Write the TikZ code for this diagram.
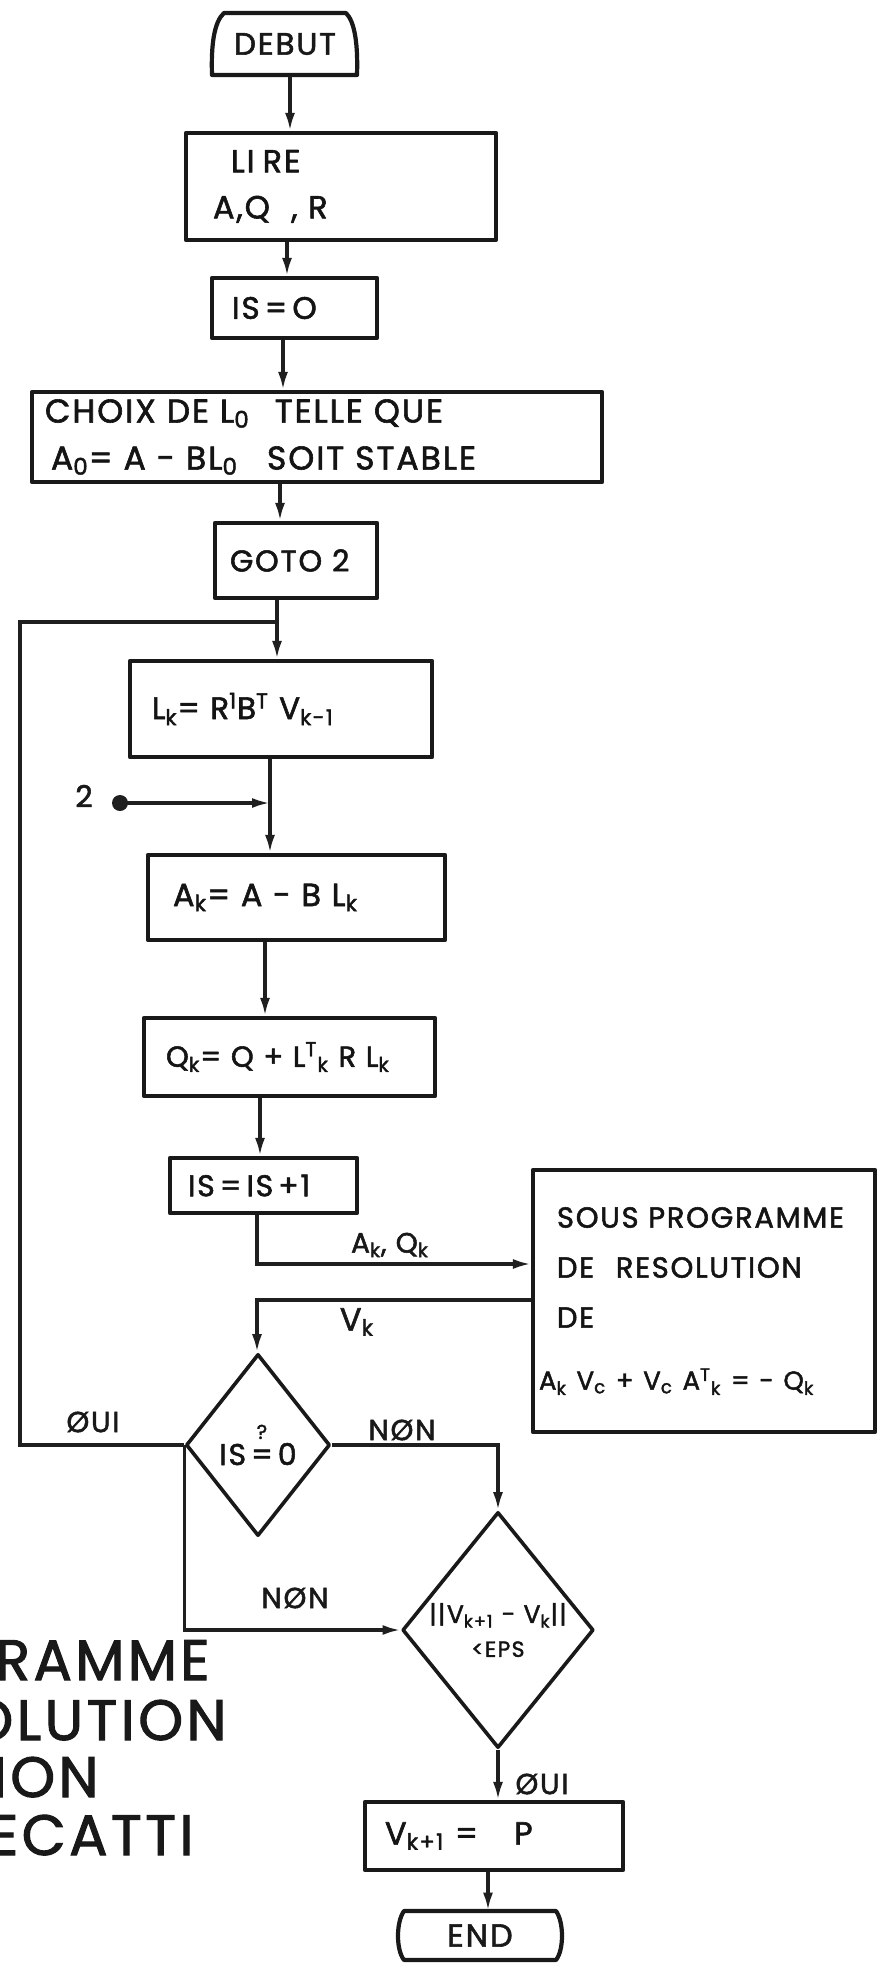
\documentclass[tikz,border=0pt]{standalone}
\usepackage{fontspec}
\setmainfont{Poppins}[LetterSpace=6,FakeBold=1.8]
\usetikzlibrary{shapes.geometric,arrows.meta}
\newcommand\fz[2]{\fontsize{#1pt}{#2pt}\selectfont}
\begin{document}
\begin{tikzpicture}[x=0.5pt,y=-0.5pt,
  boxline/.style={line width=2.1pt, draw=black!90, line join=round},
  stepbox/.style={boxline, rectangle, inner ysep=0pt, align=left, text=black!92},
  conn/.style={line width=1.6pt, draw=black!88},
  arr/.style={conn, -{Latex[length=9pt,width=5pt]}},
  lbl/.style={inner sep=0pt, text=black!90},
  dia/.style={boxline, line width=1.8pt, diamond, inner sep=0pt, align=center, text=black!92}
]
\useasboundingbox (0,0) rectangle (886,1968);
\fill[white] (0,0) rectangle (886,1968);
\clip (0,0) rectangle (886,1968);

% column coordinates for the vertical flow
\coordinate (c1) at (290,0);
\coordinate (c2) at (287,0);
\coordinate (c3) at (283,0);
\coordinate (c4) at (280,0);
\coordinate (c5) at (277,0);
\coordinate (c6) at (270,0);
\coordinate (c7) at (265,0);
\coordinate (c8) at (260,0);
\coordinate (c9) at (488,0);

% DEBUT terminal
\node[lbl, minimum width=72.5pt, minimum height=31.5pt, font=\fz{15.5}{18}] (debut) at (285,44) {DEBUT};
\draw[boxline] (224,13) .. controls (214,22) and (211,45) .. (212,75) -- (357,75)
  .. controls (358,45) and (355,22) .. (346,13) -- cycle;

\node[stepbox, minimum width=155pt, minimum height=53.5pt, inner xsep=13.5pt, text width=128pt, font=\fz{16}{23}] (lire) at (341,186.5) {\hspace*{9pt}LI\kern4pt RE\\A,Q\ \ ,\ R};
\node[stepbox, minimum width=82.5pt, minimum height=30pt, inner xsep=10pt, text width=62.5pt, font=\fz{15.5}{18}] (iso) at (294.5,308) {IS\,=\,O};
\node[stepbox, minimum width=285pt, minimum height=45pt, inner xsep=6.5pt, text width=272pt, font=\fz{16.5}{23.5}] (choix) at (317,437) {CHOIX DE L\textsubscript{0}\hspace{7pt} TELLE QUE\\\hspace*{3pt}A\textsubscript{0}= A - BL\textsubscript{0}\hspace{9pt} SOIT STABLE};
\node[stepbox, minimum width=81pt, minimum height=37.5pt, inner xsep=7.5pt, text width=66pt, font=\fz{15}{18}] (goto) at (296,560.5) {GOTO 2};
\node[stepbox, minimum width=151pt, minimum height=48pt, inner xsep=11pt, text width=129pt, font=\fz{15.5}{18}] (lk) at (281,709) {L\textsubscript{k}= R\textsuperscript{1}B\textsuperscript{T} V\textsubscript{k-1}};
\node[stepbox, minimum width=148.5pt, minimum height=42.5pt, inner xsep=12.5pt, text width=123.5pt, font=\fz{16}{18}] (ak) at (296.5,897.5) {A\textsubscript{k}= A - B L\textsubscript{k}};
\node[stepbox, minimum width=145.5pt, minimum height=39pt, inner xsep=11pt, text width=123.5pt, font=\fz{14.5}{18}] (qk) at (289.5,1057) {Q\textsubscript{k}= Q + L\textsuperscript{T}\textsubscript{k} R L\textsubscript{k}};
\node[stepbox, minimum width=93.5pt, minimum height=27.5pt, inner xsep=9pt, text width=75.5pt, font=\fz{15}{18}] (isp) at (263.5,1185.5) {IS\,=\,IS\,+1};
\node[stepbox, minimum width=171pt, minimum height=131pt, inner xsep=12pt, text width=147pt, font=\fz{14.5}{25}] (sous) at (704,1301) {SOUS PROGRAMME\\DE\hspace{6pt} RESOLUTION\\DE\\[6pt]\hspace*{-9pt}{\fz{13}{16}A\textsubscript{k} V\textsubscript{c} + V\textsubscript{c} A\textsuperscript{T}\textsubscript{k} = - Q\textsubscript{k}}};

\node[dia, minimum width=72pt, minimum height=91pt, font=\fz{15}{18}] (d1) at (258,1445) {IS\,\shortstack{{\fz{10}{10}?}\\\rule{0pt}{10pt}=}\,0};
\node[dia, minimum width=85pt, minimum height=118pt, font=\fz{12.5}{17}] (d2) at (498,1630) {||V\textsubscript{k+1} - V\textsubscript{k}||\\{\fz{11}{14}<EPS}};

\node[stepbox, minimum width=129pt, minimum height=34pt, inner xsep=10pt, text width=109pt, font=\fz{16}{18}] (vbox) at (494,1836) {V\textsubscript{k+1} =\hspace{18pt}P};

% END terminal
\node[lbl, minimum width=80pt, minimum height=24.5pt, font=\fz{16}{18}] (endbox) at (480,1935.5) {END};
\draw[boxline] (404,1911) .. controls (396,1922) and (396,1950) .. (404,1960) -- (556,1960)
  .. controls (564,1950) and (564,1922) .. (556,1911) -- cycle;

% connectors
\draw[arr] (debut.south -| c1) -- (lire.north -| c1);
\draw[arr] (lire.south -| c2) -- (iso.north -| c2);
\draw[arr] (iso.south -| c3) -- (choix.north -| c3);
\draw[arr] (choix.south -| c4) -- (goto.north -| c4);
\draw[arr] (goto.south -| c5) -- (lk.north -| c5);
\draw[arr] (lk.south -| c6) -- (ak.north -| c6);
\draw[arr] (ak.south -| c7) -- (qk.north -| c7);
\draw[arr] (qk.south -| c8) -- (isp.north -| c8);

\node[circle, fill=black!88, inner sep=0pt, minimum size=8pt] (two) at (120,803) {};
\node[lbl, font=\fz{15}{18}] (twol) at (84,796) {2};
\draw[arr] (two.center) -- (two -| c6);

\coordinate (aq) at (257,1264);
\draw[arr] (isp.south -| aq) -- (aq) -- (aq -| sous.west);
\coordinate (vk) at (257,1300);
\draw[arr] (vk -| sous.west) -- (vk) -- (vk |- d1.north);

\coordinate (lpt) at (20,622);
\draw[conn] (d1.west) -- (d1.west -| lpt) -- (lpt) -- (lpt -| c5);
\draw[arr] (d1.west) -- (d1.west |- d2.west) -- (d2.west);
\draw[arr] (d1.east) -- (d1.east -| d2.north) -- (d2.north);
\draw[arr] (d2.south) -- (d2.south |- vbox.north);
\draw[arr] (vbox.south -| c9) -- (endbox.north -| c9);

% labels
\node[lbl, font=\fz{14}{16}] (aql) at (390,1245) {A\textsubscript{k}, Q\textsubscript{k}};
\node[lbl, font=\fz{16}{18}] (vkl) at (357,1322) {V\textsubscript{k}};
\node[lbl, font=\fz{14.5}{16}] (oui1) at (93,1422) {ØUI};
\node[lbl, font=\fz{14.5}{16}] (non1) at (402,1430) {NØN};
\node[lbl, font=\fz{14.5}{16}] (non2) at (295,1598) {NØN};
\node[lbl, font=\fz{14.5}{16}] (oui2) at (542,1784) {ØUI};

% cut-off title at the left edge
\node[lbl, anchor=base east, font=\fz{28.5}{34}] (t1) at (210,1680) {RAMME};
\node[lbl, anchor=base east, font=\fz{28.5}{34}] (t2) at (227,1740) {OLUTION};
\node[lbl, anchor=base east, font=\fz{28.5}{34}] (t3) at (99,1797) {ION};
\node[lbl, anchor=base east, font=\fz{28.5}{34}] (t4) at (194,1855) {ECATTI};
\end{tikzpicture}
\end{document}
